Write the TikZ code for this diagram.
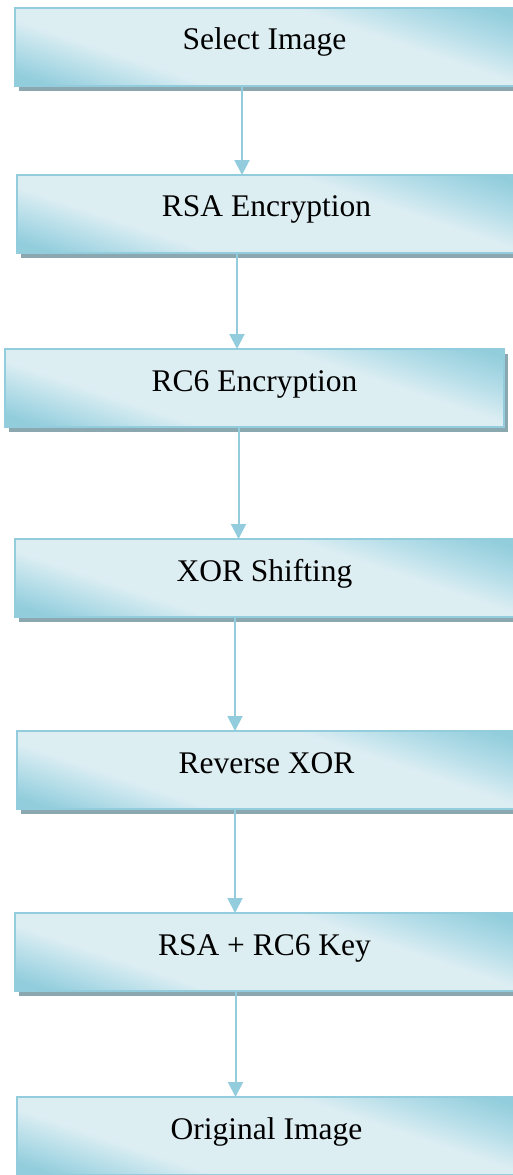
\documentclass[tikz,border=0pt]{standalone}
\usepackage{fontspec}
\setmainfont{Liberation Serif}
\usetikzlibrary{arrows.meta,shadows}

\definecolor{aqlight}{RGB}{221,238,243}
\definecolor{aqmid}{RGB}{180,221,232}
\definecolor{aqdark}{RGB}{146,205,220}
\definecolor{aqline}{RGB}{147,205,221}
\definecolor{shadegrey}{RGB}{139,167,176}

% band across the box: dark corners (bottom left, top right), light middle
\pgfdeclareverticalshading{aquaband}{100bp}{%
  color(0bp)=(aqdark); color(20bp)=(aqdark); color(27bp)=(aqmid);
  color(35bp)=(aqlight); color(63bp)=(aqlight); color(72bp)=(aqmid);
  color(81bp)=(aqdark); color(100bp)=(aqdark)}

\tikzset{
  stepbox/.style={rectangle, anchor=north west, inner sep=0pt, outer sep=0pt,
    minimum width=499pt, minimum height=78pt,
    fill=aqdark,
    drop shadow={shadow xshift=4pt, shadow yshift=-5pt,
      fill=shadegrey, opacity=1}},
  boxedge/.style={draw=aqline, line width=1.3pt},
  steptext/.style={anchor=base, inner sep=0pt,
    font=\fontsize{31.5}{36}\selectfont},
  flow/.style={draw=aqline, line width=2pt,
    -{Triangle[width=15pt,length=15pt]}}
}

\begin{document}
\begin{tikzpicture}[x=1pt,y=-1pt]
\useasboundingbox (0,0) rectangle (513,1175);
\clip (0,0) rectangle (513,1175);

% process boxes
\node[stepbox] (b1) at (15,8)    {};
\node[stepbox] (b2) at (17,175)  {};
\node[stepbox] (b3) at (5,349)   {};
\node[stepbox] (b4) at (15,539)  {};
\node[stepbox] (b5) at (17,731)  {};
\node[stepbox] (b6) at (15,913)  {};
\node[stepbox] (b7) at (17,1097) {};

% gradient stretched over each box, then its outline
\foreach \b in {b1,b2,b3,b4,b5,b6,b7} {
  \begin{scope}[transform canvas={shift={(\b.south west)}, xscale=49.9, yscale=7.8}]
    \shade[shading=aquaband, shading angle=-65] (0pt,0pt) rectangle (10pt,10pt);
  \end{scope}
  \path[boxedge] (\b.south west) rectangle (\b.north east);
}

% labels
\node[steptext] (t1) at ([yshift=-41pt]b1.north) {Select Image};
\node[steptext] (t2) at ([yshift=-41pt]b2.north) {RSA Encryption};
\node[steptext] (t3) at ([yshift=-42pt]b3.north) {RC6 Encryption};
\node[steptext] (t4) at ([yshift=-42pt]b4.north) {XOR Shifting};
\node[steptext] (t5) at ([yshift=-42pt]b5.north) {Reverse XOR};
\node[steptext] (t6) at ([yshift=-42pt]b6.north) {RSA + RC6 Key};
\node[steptext] (t7) at ([yshift=-42pt]b7.north) {Original Image};

% connector columns
\coordinate (c12) at (242,0);
\coordinate (c23) at (237,0);
\coordinate (c34) at (238.5,0);
\coordinate (c45) at (235,0);
\coordinate (c56) at (235,0);
\coordinate (c67) at (235.5,0);

% connectors
\draw[flow] (b1.south -| c12) -- (b2.north -| c12);
\draw[flow] (b2.south -| c23) -- (b3.north -| c23);
\draw[flow] (b3.south -| c34) -- (b4.north -| c34);
\draw[flow] (b4.south -| c45) -- (b5.north -| c45);
\draw[flow] (b5.south -| c56) -- (b6.north -| c56);
\draw[flow] (b6.south -| c67) -- (b7.north -| c67);
\end{tikzpicture}
\end{document}
